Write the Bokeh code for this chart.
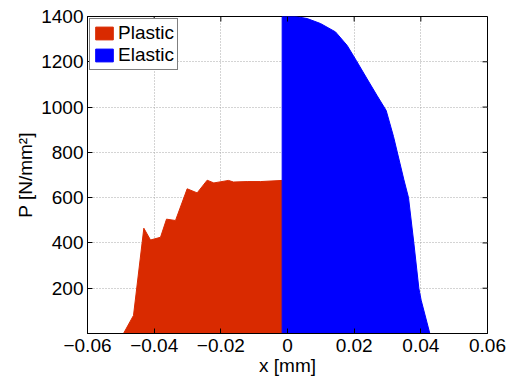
import math
from bokeh.plotting import figure
from bokeh.models import Range1d, FixedTicker, Legend, LegendItem
from bokeh.embed import file_html
from bokeh.resources import INLINE

# ---- data ----
plastic_x = [-0.0525, -0.0492, -0.0462, -0.0431, -0.0411, -0.0381, -0.0363, -0.0336,
             -0.0301, -0.0271, -0.0241, -0.0221, -0.0177, -0.0162, -0.0121, -0.0081,
             -0.0016, -0.0016]
plastic_p = [0, 0, 80, 465, 413, 425, 505, 499, 639, 621, 677, 665, 676, 669, 671,
             671, 676, 0]

elastic_x = [-0.0016, -0.0016, 0.0024, 0.0059, 0.0099, 0.0144, 0.0179, 0.0207,
             0.0239, 0.0269, 0.0296, 0.0318, 0.0349, 0.0363, 0.0379, 0.0394, 0.0401,
             0.0427, 0.0525]
elastic_p = [0, 1400, 1400, 1391, 1369, 1332, 1272, 1204, 1124, 1050, 985, 870, 680,
             600, 400, 200, 147, 0, 0]

x_ticks = [-0.06, -0.04, -0.02, 0.0, 0.02, 0.04, 0.06]
x_tick_labels = ["\u22120.06", "\u22120.04", "\u22120.02", "0", "0.02", "0.04", "0.06"]
y_ticks = [200, 400, 600, 800, 1000, 1200, 1400]
series_names = ["Plastic", "Elastic"]

RED = "#D92A00"
BLUE = "#0000FF"
FONT = "Liberation Sans"
FS = "19px"

p = figure(width=509, height=382, output_backend="svg", toolbar_location=None,
           x_range=Range1d(-0.06, 0.06), y_range=Range1d(0, 1400),
           min_border_left=87, min_border_right=22, min_border_top=16,
           min_border_bottom=49)
p.outline_line_color = "black"
p.outline_line_width = 1
p.background_fill_color = "white"
p.border_fill_color = "white"

# grid
xt = FixedTicker(ticks=x_ticks)
yt = FixedTicker(ticks=y_ticks)
p.xgrid.ticker = xt
p.ygrid.ticker = yt
for g in (p.xgrid[0], p.ygrid[0]):
    g.grid_line_color = "#a8a8a8"
    g.grid_line_dash = "1 2"
    g.grid_line_width = 1

r_pl = p.patch(plastic_x, plastic_p, fill_color=RED, line_color=RED, line_width=1)
r_el = p.patch(elastic_x, elastic_p, fill_color=BLUE, line_color=BLUE, line_width=1)

# axes
def style(ax):
    ax.major_tick_in = 5
    ax.major_tick_out = 0
    ax.minor_tick_in = 0
    ax.minor_tick_out = 0
    ax.axis_line_color = "black"
    ax.major_tick_line_color = "black"
    ax.major_label_text_font = FONT
    ax.major_label_text_color = "black"
    ax.major_label_text_font_size = FS
    ax.axis_label_text_font = FONT
    ax.axis_label_text_font_size = FS
    ax.axis_label_text_font_style = "normal"
    ax.axis_label_text_color = "black"

p.xaxis.ticker = xt
p.yaxis.ticker = yt
p.xaxis.major_label_overrides = {v: s for v, s in zip(x_ticks, x_tick_labels)}
style(p.xaxis[0])
style(p.yaxis[0])
p.xaxis.major_label_standoff = 5
p.yaxis.major_label_standoff = 4
p.xaxis.axis_label = "x [mm]"
p.xaxis.axis_label_standoff = 0
p.yaxis.axis_label = "P [N/mm\u00b2]"
p.yaxis.axis_label_standoff = 2

# inward ticks on the top and right frame edges
p.ray(x=x_ticks, y=[p.y_range.end] * len(x_ticks), length=5, length_units="screen",
      angle=-math.pi / 2, line_color="black", line_width=1)
p.ray(x=[p.x_range.end] * len(y_ticks), y=y_ticks, length=5, length_units="screen",
      angle=math.pi, line_color="black", line_width=1)

legend = Legend(items=[LegendItem(label=series_names[0], renderers=[r_pl]),
                       LegendItem(label=series_names[1], renderers=[r_el])],
                location="top_left")
legend.margin = 2
legend.padding = 3
legend.spacing = 0
legend.glyph_width = 22
legend.glyph_height = 16
legend.label_standoff = 3
legend.label_height = 16
legend.label_text_font = FONT
legend.label_text_font_size = FS
legend.label_text_color = "black"
legend.border_line_color = "black"
legend.border_line_width = 1
legend.background_fill_alpha = 1
p.add_layout(legend)

open("out.html", "w").write(file_html(p, INLINE))
